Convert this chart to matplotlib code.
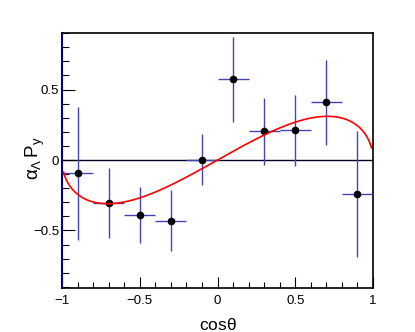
import numpy as np
import matplotlib
matplotlib.use('Agg')
import matplotlib.pyplot as plt
from matplotlib.ticker import MultipleLocator, FuncFormatter

plt.rcParams['font.family'] = ['Liberation Sans', 'DejaVu Sans']
plt.rcParams['mathtext.fontset'] = 'custom'
plt.rcParams['mathtext.rm'] = 'Liberation Sans'
plt.rcParams['mathtext.it'] = 'Liberation Sans'

# Dados
cos_theta = [-0.9, -0.7, -0.5, -0.3, -0.1, 0.1, 0.3, 0.5, 0.7, 0.9]
alpha_py = [-0.094, -0.303, -0.392, -0.430, 0.003, 0.572, 0.203, 0.211, 0.409, -0.243]
erro_y = [0.473, 0.248, 0.199, 0.218, 0.182, 0.300, 0.239, 0.250, 0.301, 0.448]
erro_x = [0.1] * 10

# Parametro do ajuste: A * cos * sqrt(1 - cos^2)
amp_ajuste = 0.62
faixa_ajuste = (-0.99, 0.99)


def rotulo(v, p):
    # estilo ROOT: 0, 0.5, -0.5, 1 ...
    if abs(v) < 1e-9:
        return '0'
    return ('\u2212' if v < 0 else '') + ('%g' % abs(v))


fig = plt.figure(figsize=(4.15, 3.32), dpi=100)
ax = fig.add_axes([0.1494, 0.1325, 0.7494, 0.7681])

# Linha do zero
ax.axhline(0, color='#000022', lw=1.0, zorder=1)

# Pontos com barras de erro
ax.errorbar(cos_theta, alpha_py, xerr=erro_x, yerr=erro_y, fmt='o',
            color='black', ms=4.5, ecolor='#4444b4', elinewidth=1.0,
            capsize=0, zorder=3)

# Curva do ajuste
xc = np.linspace(faixa_ajuste[0], faixa_ajuste[1], 200)
ax.plot(xc, amp_ajuste * xc * np.sqrt(1 - xc**2), color='red', lw=1.2, zorder=4)

ax.set_xlim(-1, 1)
ax.set_ylim(-0.908, 0.901)

ax.xaxis.set_major_locator(MultipleLocator(0.5))
ax.xaxis.set_minor_locator(MultipleLocator(0.1))
ax.yaxis.set_major_locator(MultipleLocator(0.5))
ax.yaxis.set_minor_locator(MultipleLocator(0.1))
ax.tick_params(which='both', direction='in', top=False, right=False,
               labelsize=9.5, width=0.8)
ax.tick_params(axis='x', which='major', length=8, pad=5)
ax.tick_params(axis='x', which='minor', length=4)
ax.tick_params(axis='y', which='major', length=9, pad=2)
ax.tick_params(axis='y', which='minor', length=5)
ax.xaxis.set_major_formatter(FuncFormatter(rotulo))
ax.yaxis.set_major_formatter(FuncFormatter(rotulo))

for lado in ['top', 'right', 'bottom']:
    ax.spines[lado].set_color('black')
    ax.spines[lado].set_linewidth(1.2)
ax.spines['left'].set_color('#000080')
ax.spines['left'].set_linewidth(1.5)

ax.set_xlabel(r'cos$\theta$', fontsize=12.5)
ax.xaxis.set_label_coords(0.5, -0.115)
fig.text(35 / 415, 1 - 158 / 332, r'$\alpha_{\Lambda}\,P_{y}$', fontsize=13.5,
         rotation=90, ha='center', va='center')

fig.savefig('out.png', dpi=100)
